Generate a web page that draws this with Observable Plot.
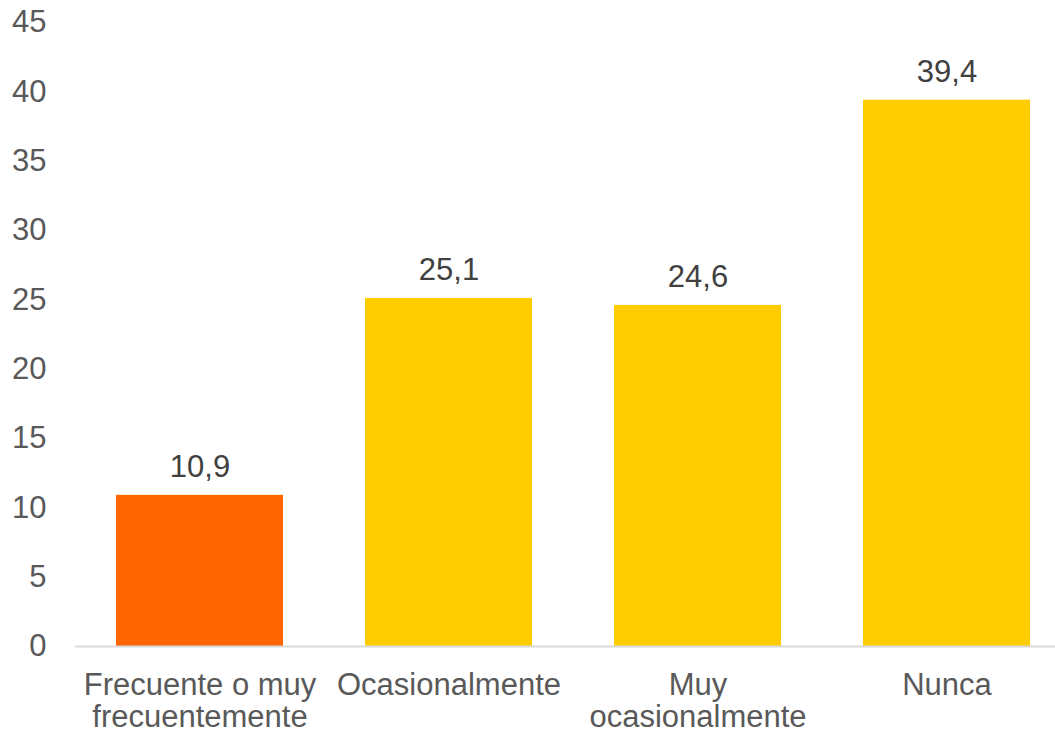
<!DOCTYPE html>
<html>
<head>
<meta charset="utf-8">
<script src="https://cdn.jsdelivr.net/npm/d3@7"></script>
<script src="https://cdn.jsdelivr.net/npm/@observablehq/plot@0.6"></script>
<style>
  html, body { margin: 0; padding: 0; background: #fff; }
  #chart svg { display: block; }
</style>
</head>
<body>
<div id="chart"></div>
<script>
const categories = ["Frecuente o muy frecuentemente", "Ocasionalmente", "Muy ocasionalmente", "Nunca"];
const values = [10.9, 25.1, 24.6, 39.4];
const tickLabels = ["Frecuente o muy\nfrecuentemente", "Ocasionalmente", "Muy\nocasionalmente", "Nunca"];
const yTicks = [0, 5, 10, 15, 20, 25, 30, 35, 40, 45];

const data = categories.map((c, i) => ({category: c, value: values[i]}));
const highlight = "#FF6600";
const base = "#FFCC00";
const fmt = v => v.toFixed(1).replace(".", ",");

const chart = Plot.plot({
  width: 1055,
  height: 734,
  marginLeft: 75,
  marginRight: 0,
  marginTop: 22,
  marginBottom: 88,
  style: {fontFamily: "'Liberation Sans', Arial, sans-serif", fontSize: "31px", background: "#fff"},
  x: {domain: categories, range: [75, 1071], paddingInner: 0.33, paddingOuter: 0.165, align: 0.5, axis: null},
  y: {domain: [0, 45], axis: null},
  marks: [
    Plot.barY(data, {x: "category", y: "value", fill: d => d.category === categories[0] ? highlight : base}),
    Plot.ruleY([0], {stroke: "#D9D9D9", strokeWidth: 2}),
    Plot.axisY({ticks: yTicks, tickSize: 0, tickPadding: 29, fill: "#595959", fontSize: 31, label: null}),
    Plot.axisX({tickSize: 0, tickPadding: 26, fill: "#595959", fontSize: 31, label: null, lineHeight: 1.02,
      tickFormat: d => tickLabels[categories.indexOf(d)]}),
    Plot.text(data, {x: "category", y: "value", text: d => fmt(d.value), lineAnchor: "bottom", dy: -18, fill: "#404040", fontSize: 31})
  ]
});
document.getElementById("chart").appendChild(chart);
</script>
</body>
</html>
